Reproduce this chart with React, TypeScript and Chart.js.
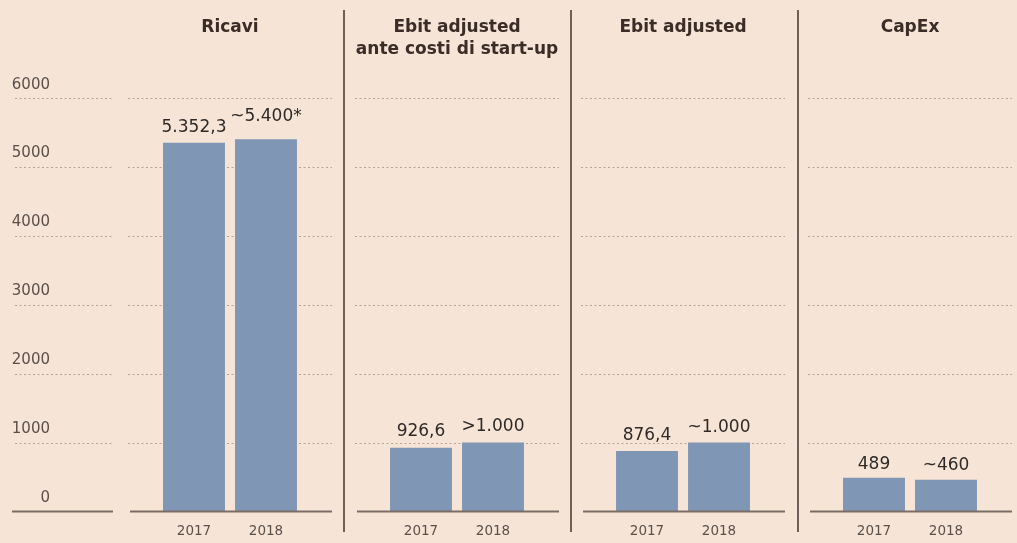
import React, { useEffect, useRef } from "react";
import { Chart, registerables } from "chart.js";

Chart.register(...registerables);

// ---------- data ----------
const years = ["2017", "2018"];
const yMin = 0;
const yMax = 6000;
const yStep = 1000;

const ricaviTitle = ["Ricavi"];
const ricaviValues = [5352.3, 5400];
const ricaviLabels = ["5.352,3", "~5.400*"];

const ebitAnteTitle = ["Ebit adjusted", "ante costi di start-up"];
const ebitAnteValues = [926.6, 1000];
const ebitAnteLabels = ["926,6", ">1.000"];

const ebitTitle = ["Ebit adjusted"];
const ebitValues = [876.4, 1000];
const ebitLabels = ["876,4", "~1.000"];

const capexTitle = ["CapEx"];
const capexValues = [489, 460];
const capexLabels = ["489", "~460"];

// ---------- style ----------
const BG = "#f6e5d7";
const BAR = "#7f96b4";
const GRID = "#b5a495";
const BASE = "#7b6d66";
const DIVIDER = "#6e5f58";
const TITLE = "#3a2c26";
const VALUE = "#2f2a28";
const TICK = "#5b4f4a";
const FONT = "'DejaVu Sans', sans-serif";

const CANVAS_H = 560;
const AREA_TOP = 98;
const AREA_BOTTOM = 511.5;
const PANEL_W = 204;
const AXIS_W = 120;

function drawGrid(chart: any, x0: number, x1: number) {
  const ctx = chart.ctx;
  const ys = chart.scales.y;
  ctx.save();
  ctx.strokeStyle = GRID;
  ctx.lineWidth = 1;
  ctx.setLineDash([2, 2.5]);
  ys.ticks.forEach((t: any) => {
    if (t.value === 0) return;
    const y = Math.round(ys.getPixelForValue(t.value)) + 0.5;
    ctx.beginPath();
    ctx.moveTo(x0, y);
    ctx.lineTo(x1, y);
    ctx.stroke();
  });
  ctx.restore();
}

function drawBaseline(chart: any, x0: number, x1: number) {
  const ctx = chart.ctx;
  const y = chart.scales.y.getPixelForValue(0);
  ctx.save();
  ctx.strokeStyle = BASE;
  ctx.lineWidth = 2;
  ctx.beginPath();
  ctx.moveTo(x0, y);
  ctx.lineTo(x1, y);
  ctx.stroke();
  ctx.restore();
}

function AxisPanel({ left }: { left: number }) {
  const ref = useRef<HTMLCanvasElement>(null);
  useEffect(() => {
    const plugin = {
      id: "axisDecor",
      beforeDatasetsDraw(chart: any) {
        drawGrid(chart, 15, 112);
      },
      afterDatasetsDraw(chart: any) {
        drawBaseline(chart, 12, 113);
        const ctx = chart.ctx;
        const ys = chart.scales.y;
        ctx.save();
        ctx.fillStyle = TICK;
        ctx.font = `15px ${FONT}`;
        ctx.textAlign = "right";
        ctx.textBaseline = "alphabetic";
        ys.ticks.forEach((t: any) => {
          ctx.fillText(String(t.value), 50, ys.getPixelForValue(t.value) - 9.5);
        });
        ctx.restore();
      },
    };
    const chart = new Chart(ref.current!, {
      type: "bar",
      data: { labels: years, datasets: [] },
      options: {
        animation: false,
        responsive: false,
        maintainAspectRatio: false,
        layout: { padding: { top: AREA_TOP, bottom: CANVAS_H - AREA_BOTTOM, left: 0, right: 0 } },
        scales: {
          x: { display: false },
          y: {
            min: yMin,
            max: yMax,
            ticks: { stepSize: yStep, display: false },
            grid: { display: false, drawTicks: false },
            border: { display: false },
          },
        },
        plugins: { legend: { display: false }, tooltip: { enabled: false } },
      },
      plugins: [plugin],
    });
    return () => chart.destroy();
  }, []);
  return (
    <canvas
      ref={ref}
      width={AXIS_W}
      height={CANVAS_H}
      style={{ position: "absolute", left, top: 0, width: AXIS_W, height: CANVAS_H }}
    />
  );
}

type PanelProps = {
  left: number;
  title: string[];
  values: number[];
  labels: string[];
  gaps: number[];
};

function BarPanel({ left, title, values, labels, gaps }: PanelProps) {
  const ref = useRef<HTMLCanvasElement>(null);
  useEffect(() => {
    const xFontSize = 13.5;
    const xPad = 11.5;
    const xAxisH = xFontSize * 1.2 + 2 * xPad;
    const plugin = {
      id: "panelDecor",
      beforeDatasetsDraw(chart: any) {
        drawGrid(chart, 0, chart.width);
      },
      afterDatasetsDraw(chart: any) {
        drawBaseline(chart, 2, chart.width);
        const ctx = chart.ctx;
        const meta = chart.getDatasetMeta(0);
        ctx.save();
        ctx.fillStyle = VALUE;
        ctx.font = `17px ${FONT}`;
        ctx.textAlign = "center";
        ctx.textBaseline = "alphabetic";
        meta.data.forEach((bar: any, i: number) => {
          ctx.fillText(labels[i], bar.x, bar.y - gaps[i]);
        });
        ctx.fillStyle = TITLE;
        ctx.font = `bold 17px ${FONT}`;
        title.forEach((line, i) => {
          ctx.fillText(line, chart.width / 2, 31.5 + i * 22.5);
        });
        ctx.restore();
      },
    };
    const chart = new Chart(ref.current!, {
      type: "bar",
      data: {
        labels: years,
        datasets: [
          {
            data: values,
            backgroundColor: BAR,
            borderWidth: 0,
            barPercentage: 0.86,
            categoryPercentage: 1,
          },
        ],
      },
      options: {
        animation: false,
        responsive: false,
        maintainAspectRatio: false,
        layout: {
          padding: { top: AREA_TOP, bottom: CANVAS_H - AREA_BOTTOM - xAxisH, left: 30, right: 30 },
        },
        scales: {
          x: {
            offset: true,
            grid: { display: false, drawTicks: false },
            border: { display: false },
            ticks: {
              color: TICK,
              font: { family: FONT, size: xFontSize },
              padding: xPad,
              maxRotation: 0,
              autoSkip: false,
            },
          },
          y: {
            min: yMin,
            max: yMax,
            ticks: { stepSize: yStep, display: false },
            grid: { display: false, drawTicks: false },
            border: { display: false },
          },
        },
        plugins: { legend: { display: false }, tooltip: { enabled: false } },
      },
      plugins: [plugin],
    });
    return () => chart.destroy();
  }, []);
  return (
    <canvas
      ref={ref}
      width={PANEL_W}
      height={CANVAS_H}
      style={{ position: "absolute", left, top: 0, width: PANEL_W, height: CANVAS_H }}
    />
  );
}

function Divider({ left }: { left: number }) {
  return (
    <div
      style={{
        position: "absolute",
        left,
        top: 10,
        width: 2,
        height: 522,
        background: DIVIDER,
      }}
    />
  );
}

export default function App() {
  return (
    <div
      style={{
        position: "fixed",
        left: 0,
        top: 0,
        width: 1017,
        height: 543,
        overflow: "hidden",
        background: BG,
      }}
    >
      <AxisPanel left={0} />
      <BarPanel left={128} title={ricaviTitle} values={ricaviValues} labels={ricaviLabels} gaps={[11, 18]} />
      <Divider left={343} />
      <BarPanel left={355} title={ebitAnteTitle} values={ebitAnteValues} labels={ebitAnteLabels} gaps={[11.5, 11.5]} />
      <Divider left={570} />
      <BarPanel left={581} title={ebitTitle} values={ebitValues} labels={ebitLabels} gaps={[11.5, 10.5]} />
      <Divider left={797} />
      <BarPanel left={808} title={capexTitle} values={capexValues} labels={capexLabels} gaps={[8.5, 9.5]} />
    </div>
  );
}
